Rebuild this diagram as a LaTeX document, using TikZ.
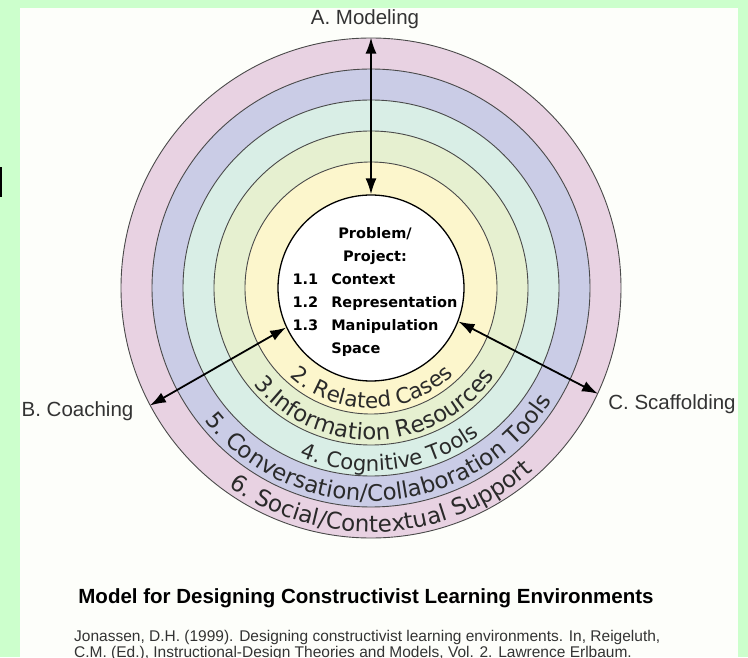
\documentclass[tikz,border=0pt]{standalone}
\usepackage{fontspec}
\setmainfont{Liberation Sans}
\newfontfamily\ringface{DejaVu Sans}
\newfontfamily\coreface{DejaVu Sans}
\usetikzlibrary{arrows.meta,decorations.text}

\definecolor{bggreen}{HTML}{CCFFCC}
\definecolor{panel}{HTML}{FDFEFA}
\definecolor{ringline}{HTML}{4A4A4A}
\definecolor{ringsix}{HTML}{E8D2E2}
\definecolor{ringfive}{HTML}{CACCE6}
\definecolor{ringfour}{HTML}{D9EEE6}
\definecolor{ringthree}{HTML}{E6F0D0}
\definecolor{ringtwo}{HTML}{FCF6CC}
\definecolor{labeltext}{HTML}{333333}
\definecolor{ringtext}{HTML}{2A2A2A}

\tikzset{
  ring/.style={circle, draw=ringline, line width=0.9pt, inner sep=0pt},
  twoway/.style={{Latex[length=16pt,width=11pt]}-{Latex[length=16pt,width=11pt]}, line width=1.8pt},
  lbl/.style={font=\fontsize{20.5}{24}\selectfont, text=labeltext, inner sep=0pt, anchor=base},
  reftext/.style={font=\fontsize{15.5}{16}\selectfont, text=labeltext, inner sep=0pt, anchor=base west},
  coretxt/.style={font=\coreface\bfseries\fontsize{14.5}{23}\selectfont, inner sep=0pt},
  ringlabel/.style 2 args={decorate, decoration={text along path, text align=center,
      text={|\ringface\fontsize{#1}{#1}\selectfont\color{ringtext}|#2}}}
}

\begin{document}
\begin{tikzpicture}[x=1pt,y=1pt]
\useasboundingbox (0,0) rectangle (748,657);
% page
\fill[bggreen] (0,0) rectangle (748,657);
\fill[panel] (20,0) rectangle (738,649);
\fill[black] (0,460) rectangle (2,490);

\coordinate (c) at (371,369);

% rings, outermost first
\node[ring, fill=ringsix, minimum size=500pt] (support) at (c) {};
\node[ring, fill=ringfive, minimum size=438pt] (talk) at (c) {};
\node[ring, fill=ringfour, minimum size=376pt] (tools) at (c) {};
\node[ring, fill=ringthree, minimum size=314pt] (info) at (c) {};
\node[ring, fill=ringtwo, minimum size=252pt] (cases) at (c) {};
\node[ring, fill=white, draw=black, line width=1.3pt, minimum size=186pt] (core) at (c) {};

\node[coretxt] (problem) at (375,366) {\begin{tabular}{@{}l@{\hspace{13pt}}l@{}}
  \multicolumn{2}{@{}c@{}}{Problem/}\\
  \multicolumn{2}{@{}c@{}}{Project:}\\
  1.1 & Context\\
  1.2 & Representation\\
  1.3 & Manipulation\\
      & Space
\end{tabular}};

% ring names along the lower arcs
\path[ringlabel={21.5}{2. Related Cases}] ([shift={(-189.4:120pt)}]c) arc[start angle=-189.4, delta angle=200, radius=120pt];
\path[ringlabel={22.8}{3.Information Resources}] ([shift={(-188:152pt)}]c) arc[start angle=-188, delta angle=200, radius=152pt];
\path[ringlabel={21.2}{4. Cognitive Tools}] ([shift={(-183.2:183pt)}]c) arc[start angle=-183.2, delta angle=200, radius=183pt];
\path[ringlabel={22.8}{5. Conversation/Collaboration Tools}] ([shift={(-186.7:213pt)}]c) arc[start angle=-186.7, delta angle=200, radius=213pt];
\path[ringlabel={23}{6. Social/Contextual Support}] ([shift={(-187:244pt)}]c) arc[start angle=-187, delta angle=200, radius=244pt];

% the three supports
\draw[twoway] (support.north) -- (core.north);
\draw[twoway] (support.208.5) -- (core.205.5);
\draw[twoway] (support.-25.5) -- (core.-21);

\node[lbl] (modeling) at (365,632) {A. Modeling};
\node[lbl] (coaching) at (77.5,240) {B. Coaching};
\node[lbl] (scaffolding) at (672,247.3) {C. Scaffolding};

\node[lbl, font=\bfseries\fontsize{20.5}{24}\selectfont, text=black] (title) at (366,54) {Model for Designing Constructivist Learning Environments};
\node[reftext] (ref) at (74,16) {Jonassen, D.H. (1999). Designing constructivist learning environments. In, Reigeluth,};
\node[reftext] (refmore) at (74,0) {C.M. (Ed.), Instructional-Design Theories and Models, Vol. 2. Lawrence Erlbaum.};
\end{tikzpicture}
\end{document}
